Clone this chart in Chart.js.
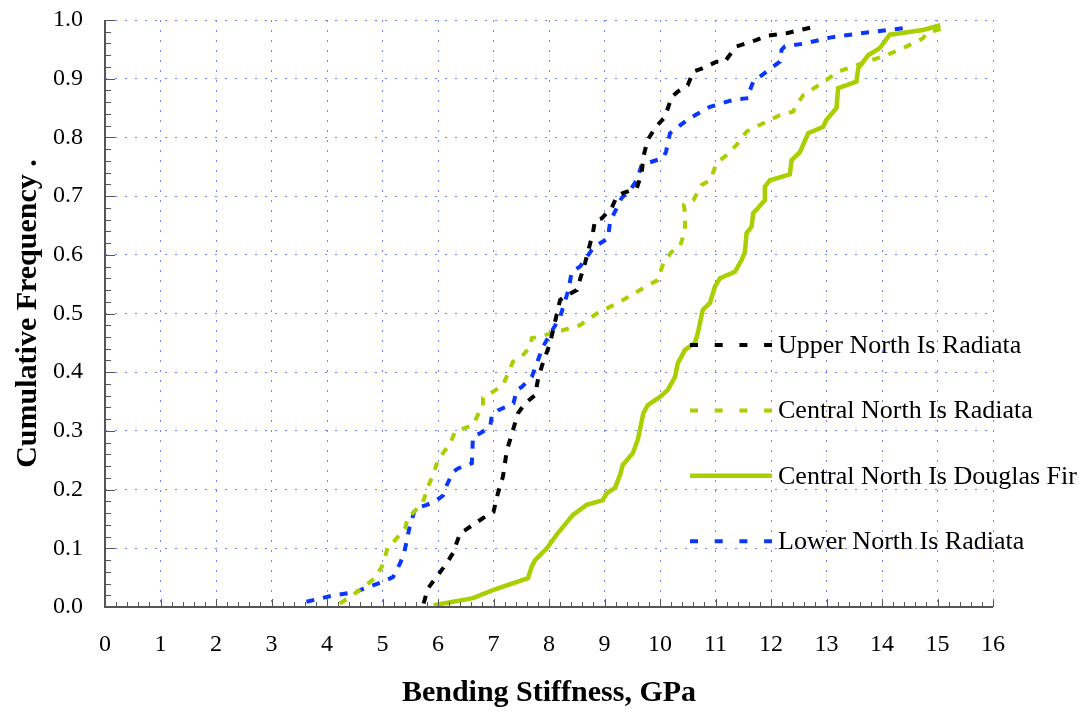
<!DOCTYPE html>
<html>
<head>
<meta charset="utf-8">
<script src="https://cdn.jsdelivr.net/npm/chart.js@4.4.0/dist/chart.umd.min.js"></script>
<style>
  html, body { margin: 0; padding: 0; background: #fff; }
  canvas { display: block; }
</style>
</head>
<body>
<canvas id="cdf" width="1084" height="713"></canvas>
<script>
// hodnoty (x = GPa, y = kumulativní četnost)
const seriesNames = ["Upper North Is Radiata", "Central North Is Radiata", "Central North Is Douglas Fir", "Lower North Is Radiata"];

const upperX = [5.74,5.82,5.98,6.16,6.27,6.40,6.49,6.82,7.00,7.08,7.17,7.24,7.30,7.44,7.57,7.75,7.80,7.87,8.02,8.20,8.29,8.50,8.65,8.79,8.83,8.95,9.13,9.22,9.33,9.58,9.67,9.70,9.78,9.91,10.09,10.21,10.32,10.50,10.60,10.75,11.02,11.17,11.23,11.38,11.74,11.92,12.30,12.76,12.85];
const upperY = [0.006,0.032,0.052,0.075,0.092,0.126,0.131,0.152,0.162,0.194,0.222,0.267,0.285,0.330,0.347,0.361,0.387,0.410,0.450,0.523,0.529,0.540,0.586,0.637,0.659,0.662,0.680,0.699,0.705,0.713,0.739,0.767,0.796,0.816,0.835,0.869,0.878,0.889,0.912,0.917,0.929,0.929,0.937,0.955,0.966,0.973,0.978,0.988,0.992];

const centralX = [4.23,4.38,4.63,4.86,4.99,5.10,5.23,5.41,5.46,5.55,5.73,5.82,5.91,6.00,6.09,6.22,6.31,6.40,6.63,6.76,6.81,6.81,6.90,7.17,7.35,7.48,7.66,7.69,7.80,8.16,8.56,8.86,9.28,9.64,9.96,10.06,10.21,10.36,10.45,10.45,10.43,10.60,10.75,10.90,11.02,11.20,11.38,11.56,11.86,12.16,12.40,12.46,12.58,12.91,13.21,13.60,14.08,14.38,14.74,14.80,15.16];
const centralY = [0.006,0.015,0.032,0.049,0.069,0.103,0.114,0.135,0.154,0.160,0.179,0.205,0.225,0.250,0.262,0.279,0.299,0.302,0.310,0.335,0.341,0.356,0.361,0.378,0.418,0.424,0.443,0.458,0.460,0.469,0.480,0.500,0.520,0.540,0.557,0.586,0.605,0.614,0.642,0.671,0.685,0.693,0.719,0.727,0.756,0.770,0.787,0.810,0.824,0.838,0.844,0.855,0.872,0.892,0.912,0.925,0.940,0.952,0.969,0.977,0.988];

const firX = [5.92,6.63,7.00,7.62,7.69,7.75,7.96,8.16,8.43,8.68,8.97,9.04,9.19,9.28,9.33,9.51,9.60,9.70,9.78,10.00,10.14,10.27,10.32,10.45,10.63,10.68,10.77,10.90,10.99,11.08,11.35,11.47,11.53,11.56,11.65,11.68,11.77,11.89,11.89,11.98,12.34,12.37,12.52,12.67,12.94,13.00,13.18,13.21,13.54,13.57,13.75,13.96,14.14,14.74,15.05];
const firY = [0.003,0.015,0.029,0.049,0.069,0.080,0.100,0.126,0.157,0.174,0.182,0.194,0.203,0.225,0.242,0.262,0.285,0.330,0.344,0.358,0.370,0.392,0.415,0.438,0.450,0.466,0.506,0.518,0.546,0.560,0.571,0.591,0.605,0.637,0.648,0.671,0.680,0.693,0.716,0.727,0.737,0.761,0.775,0.807,0.818,0.830,0.850,0.884,0.895,0.917,0.940,0.952,0.975,0.983,0.991];

const lowerX = [3.63,4.08,4.53,4.68,5.01,5.19,5.32,5.39,5.49,5.59,5.80,5.98,6.09,6.16,6.27,6.36,6.61,6.63,6.76,6.94,6.97,7.08,7.36,7.42,7.51,7.69,7.78,7.89,8.02,8.20,8.35,8.41,8.56,8.77,8.83,9.06,9.10,9.16,9.31,9.46,9.58,9.67,10.06,10.11,10.18,10.30,10.54,10.90,11.32,11.60,11.62,11.68,11.92,12.16,12.19,12.25,12.61,13.06,13.51,13.93,14.38,14.45];
const lowerY = [0.009,0.019,0.026,0.032,0.043,0.051,0.075,0.092,0.137,0.168,0.174,0.182,0.190,0.208,0.230,0.236,0.245,0.290,0.296,0.307,0.327,0.335,0.347,0.370,0.375,0.392,0.415,0.443,0.465,0.494,0.540,0.571,0.580,0.608,0.614,0.628,0.655,0.668,0.697,0.710,0.727,0.753,0.765,0.776,0.807,0.816,0.833,0.852,0.864,0.867,0.880,0.895,0.912,0.929,0.949,0.955,0.960,0.970,0.976,0.981,0.986,0.988];

const GREEN = "#a8d000";
const BLUE = "#0a36ff";
const GRID = "#6f84ff";
const FONT = "'Liberation Serif', 'Times New Roman', serif";

function pts(xs, ys) {
  return xs.map((x, i) => ({ x: x, y: ys[i] }));
}

function line(label, xs, ys, color, dash, width) {
  return {
    label: label,
    data: pts(xs, ys),
    borderColor: color,
    backgroundColor: color,
    borderWidth: width,
    borderDash: dash,
    borderCapStyle: "butt",
    borderJoinStyle: "miter",
    showLine: true,
    pointRadius: 0,
    tension: 0,
    fill: false
  };
}

// osy s tiky dovnitř + legenda uvnitř grafu
const axesAndLegend = {
  id: "axesAndLegend",
  afterDatasetsDraw(chart) {
    const { ctx, chartArea: a, scales: { x, y } } = chart;
    ctx.save();
    ctx.strokeStyle = "#555";
    ctx.lineWidth = 2;
    ctx.beginPath();
    ctx.moveTo(a.left, a.top);
    ctx.lineTo(a.left, a.bottom);
    ctx.lineTo(a.right, a.bottom);
    ctx.stroke();

    ctx.lineWidth = 1;
    ctx.beginPath();
    for (let i = 0; i <= 50; i++) {
      const py = Math.round(y.getPixelForValue(i * 0.02)) + 0.5;
      const len = i % 5 === 0 ? 10 : 6;
      ctx.moveTo(a.left, py);
      ctx.lineTo(a.left + len, py);
    }
    for (let i = 0; i <= 80; i++) {
      const px = Math.round(x.getPixelForValue(i * 0.2)) + 0.5;
      const len = i % 5 === 0 ? 8 : 5;
      ctx.moveTo(px, a.bottom);
      ctx.lineTo(px, a.bottom - len);
    }
    ctx.stroke();

    // legenda
    const ds = chart.data.datasets;
    ctx.font = "26px " + FONT;
    ctx.fillStyle = "#000";
    ctx.textBaseline = "middle";
    ctx.textAlign = "left";
    for (let i = 0; i < ds.length; i++) {
      const ly = a.top + 325 + i * 65.4;
      const lx = a.left + 585;
      ctx.strokeStyle = ds[i].borderColor;
      ctx.lineWidth = ds[i].borderWidth;
      ctx.setLineDash(ds[i].borderDash.length ? [8, 16.7] : []);
      ctx.beginPath();
      ctx.moveTo(lx, ly);
      ctx.lineTo(lx + 82, ly);
      ctx.stroke();
      ctx.setLineDash([]);
      ctx.fillText(ds[i].label, lx + 88, ly + 1);
    }
    ctx.restore();
  }
};

new Chart(document.getElementById("cdf"), {
  type: "scatter",
  data: {
    datasets: [
      line(seriesNames[0], upperX, upperY, "#000", [8, 9], 4),
      line(seriesNames[1], centralX, centralY, GREEN, [8, 9], 4),
      line(seriesNames[2], firX, firY, GREEN, [], 4.5),
      line(seriesNames[3], lowerX, lowerY, BLUE, [8, 9], 4)
    ]
  },
  options: {
    responsive: false,
    devicePixelRatio: 1,
    animation: false,
    layout: { padding: { top: 20, right: 91, left: 0, bottom: 0 } },
    plugins: {
      legend: { display: false },
      tooltip: { enabled: false }
    },
    scales: {
      x: {
        type: "linear",
        min: 0,
        max: 16,
        afterFit(s) { s.height = 106; },
        ticks: {
          stepSize: 1,
          color: "#000",
          font: { family: FONT, size: 24 },
          padding: 23,
          maxRotation: 0,
          autoSkip: false
        },
        grid: { color: GRID, lineWidth: 1, drawTicks: false },
        border: { display: false, dash: [2, 8] },
        title: {
          display: true,
          text: "Bending Stiffness, GPa",
          color: "#000",
          font: { family: FONT, size: 30, weight: "bold" },
          padding: { top: 0, bottom: 2 }
        }
      },
      y: {
        type: "linear",
        min: 0,
        max: 1,
        afterFit(s) { s.width = 105; s.paddingTop = 0; s.paddingBottom = 0; },
        ticks: {
          stepSize: 0.1,
          color: "#000",
          font: { family: FONT, size: 24 },
          padding: 22,
          callback: v => v.toFixed(1)
        },
        grid: { color: GRID, lineWidth: 1, drawTicks: false },
        border: { display: false, dash: [2, 8] },
        title: {
          display: true,
          text: "Cumulative Frequency .",
          color: "#000",
          font: { family: FONT, size: 30, weight: "bold" },
          padding: { top: 10, bottom: 0 }
        }
      }
    }
  },
  plugins: [axesAndLegend]
});
</script>
</body>
</html>
